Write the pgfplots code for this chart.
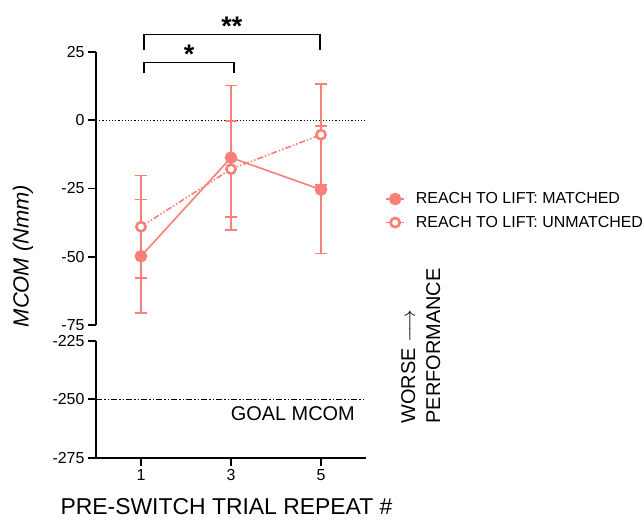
\documentclass[border=0pt]{standalone}
\usepackage{pgfplots}
\pgfplotsset{compat=1.18}
\usepackage{fontspec}
\setmainfont{Liberation Sans}
\definecolor{salmon}{RGB}{248,128,120}
\begin{document}
\begin{tikzpicture}
\path[use as bounding box] (0bp,0bp) rectangle (643bp,521bp);
\pgfplotsset{
  common/.style={
    scale only axis, width=270bp, xmin=0, xmax=6, clip=false,
    /pgf/number format/assume math mode=true,
    tick align=outside, major tick length=8bp,
    every tick/.style={black, line width=1.6bp},
    axis line style={black, line width=1.6bp},
    tick label style={font=\fontsize{16}{16}\selectfont},
  },
  errs/.style={error bars/.cd, y dir=both, y explicit,
    error bar style={line width=1.6bp, salmon, solid},
    error mark options={line width=1.6bp, salmon, mark size=6.2bp, rotate=90, solid}},
}
\begin{axis}[common, at={(96bp,196bp)}, anchor=south west, height=273bp,
  ymin=-75, ymax=25, ytick={-75,-50,-25,0,25},
  axis x line=none, axis y line*=left,
  legend style={at={(1.06,0.50)}, anchor=north west, draw=none, fill=none,
    font=\fontsize{16}{16}\selectfont, row sep=7bp, column sep=9bp},
  legend cell align=left,
  legend image code/.code={\draw[mark repeat=2,mark phase=2] plot coordinates {(0bp,0bp) (9bp,0bp) (18bp,0bp)};},
]
\addplot[forget plot, black, dotted, line width=1.2bp] coordinates {(0,0) (6,0)};
\addplot[salmon, line width=1.6bp, mark=*, mark size=5.5bp, errs]
  coordinates {(1,-49.8) +- (0,20.8) (3,-13.7) +- (0,26.5) (5,-25.4) +- (0,23.4)};
\addplot[salmon, line width=1.6bp, dash pattern=on 6bp off 2bp on 1.5bp off 2bp on 1.5bp off 2bp,
  mark=*, mark size=4.6bp, mark options={solid, fill=white, draw=salmon, line width=2.6bp}, errs]
  coordinates {(1,-39.0) +- (0,18.7) (3,-17.9) +- (0,17.6) (5,-5.3) +- (0,18.5)};
\legend{REACH TO LIFT: MATCHED, REACH TO LIFT: UNMATCHED}
\draw[black, line width=1.4bp] (axis cs:1.067,17.2) -- (axis cs:1.067,21.2) -- (axis cs:3.067,21.2) -- (axis cs:3.067,17.2);
\draw[black, line width=1.4bp] (axis cs:1.067,25.6) -- (axis cs:1.067,31.5) -- (axis cs:4.98,31.5) -- (axis cs:4.98,25.6);
\node[font=\bfseries\fontsize{27}{27}\selectfont] at (axis cs:2.067,24.2) {*};
\node[font=\bfseries\fontsize{27}{27}\selectfont] at (axis cs:3.02,34.5) {**};
\end{axis}
\begin{axis}[common, at={(96bp,63.3bp)}, anchor=south west, height=117bp,
  ymin=-275, ymax=-225, ytick={-275,-250,-225}, xtick={1,3,5},
  axis x line*=bottom, axis y line*=left]
\addplot[black, line width=1.3bp, dash pattern=on 6bp off 2bp on 1.5bp off 2bp on 1.5bp off 2bp] coordinates {(0,-250) (6,-250)};
\node[anchor=east, font=\fontsize{20}{20}\selectfont] at (axis cs:5.83,-256.3) {GOAL MCOM};
\end{axis}
\node[rotate=90, font=\itshape\fontsize{22}{22}\selectfont] at (23bp,265bp) {MCOM (Nmm)};
\node[inner sep=0pt, font=\fontsize{23}{23}\selectfont] at (226.5bp,14bp) {PRE-SWITCH TRIAL REPEAT \#};
\node[rotate=90, anchor=base west, font=\fontsize{20}{20}\selectfont] at (415bp,94bp) {WORSE $\longrightarrow$};
\node[rotate=90, anchor=base west, font=\fontsize{20}{20}\selectfont] at (440bp,94bp) {PERFORMANCE};
\end{tikzpicture}
\end{document}
